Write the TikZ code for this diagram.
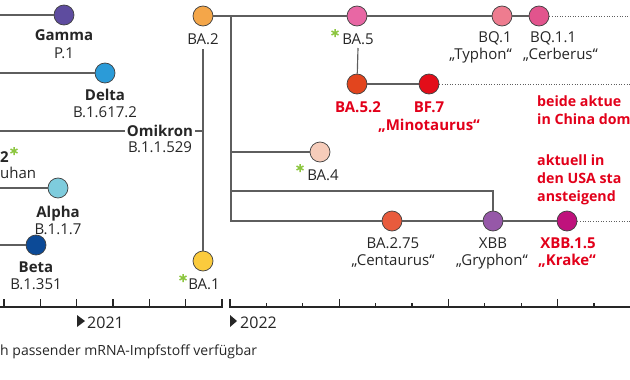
\documentclass[tikz,border=0pt]{standalone}
\usepackage{fontspec}
\setmainfont{Open Sans}
\usetikzlibrary{positioning}
\definecolor{linie}{HTML}{5E5E5E}
\definecolor{warnrot}{HTML}{E2001A}
\definecolor{sterngruen}{HTML}{8CC63F}
\definecolor{cGamma}{HTML}{5E4C9F}
\definecolor{cDelta}{HTML}{2B9BD8}
\definecolor{cAlpha}{HTML}{7ECCDD}
\definecolor{cBeta}{HTML}{0C4A97}
\definecolor{cBAzwei}{HTML}{F4A649}
\definecolor{cBAeins}{HTML}{FBCB3D}
\definecolor{cBAfuenf}{HTML}{E867A4}
\definecolor{cBAfz}{HTML}{E2451E}
\definecolor{cBF}{HTML}{E30D19}
\definecolor{cBQ}{HTML}{EE7C8F}
\definecolor{cBQe}{HTML}{E2548D}
\definecolor{cBAvier}{HTML}{F6CCBA}
\definecolor{cBAzs}{HTML}{E85B3D}
\definecolor{cXBB}{HTML}{9658A8}
\definecolor{cXBBe}{HTML}{BF127C}
\newcommand{\gruenstern}[1]{\draw[stern,shift={#1}] (0,-4)--(0,4) (-3.5,-2)--(3.5,2) (-3.5,2)--(3.5,-2);}
\begin{document}
\begin{tikzpicture}[x=1pt,y=-1pt,
    variante/.style={circle,draw=black!75,line width=.7pt,minimum size=20pt,inner sep=0pt},
    ast/.style={draw=linie,line width=1.15pt},
    weiter/.style={draw=linie,line width=.8pt,dash pattern=on 1pt off 1.6pt},
    bez/.style={font=\fontsize{15}{17}\selectfont\bfseries,text=black!85,inner sep=0pt,anchor=base},
    kurz/.style={font=\fontsize{15}{17}\selectfont,text=black!85,inner sep=0pt,anchor=base},
    rotbez/.style={bez,text=warnrot},
    hinweis/.style={font=\fontsize{14.2}{17}\selectfont\bfseries,text=warnrot,inner sep=0pt,anchor=base west},
    jahr/.style={font=\fontsize{16}{18}\selectfont,text=black!85,inner sep=0pt,anchor=base west},
    notiz/.style={font=\fontsize{14}{16}\selectfont,text=black!85,inner sep=0pt,anchor=base west},
    achse/.style={draw=black!85,line width=1.5pt},
    stern/.style={draw=sterngruen,line width=1.5pt}]
\useasboundingbox (0,0) rectangle (630,380);
\clip (0,0) rectangle (630,380);
\coordinate (rand) at (-5,0);
\coordinate (ende) at (640,0);

% Varianten bis Omikron
\node[variante,fill=cGamma] (gamma) at (64,15) {};
\node[bez] (gammaN) at (64,41) {Gamma};
\node[kurz] (gammaK) at (64,58) {P.1};
\node[variante,fill=cDelta] (delta) at (105,73) {};
\node[bez] (deltaN) at (105,100) {Delta};
\node[kurz] (deltaK) at (105,117) {B.1.617.2};
\node[variante,fill=cAlpha] (alpha) at (58,188) {};
\node[bez] (alphaN) at (58,217) {Alpha};
\node[kurz] (alphaK) at (58,234) {B.1.1.7};
\node[variante,fill=cBeta] (beta) at (36,245) {};
\node[bez] (betaN) at (36,272) {Beta};
\node[kurz] (betaK) at (36,289) {B.1.351};
\node[bez,anchor=base west] (wuhanN) at (0,162) {2};
\node[kurz,anchor=base west] (wuhanK) at (0,178) {uhan};
\gruenstern{(14,151)}
\foreach \v in {gamma,delta,alpha,beta} \draw[ast] (rand |- \v) -- (\v);

\node[bez,inner sep=2pt] (omikron) at (160,136) {Omikron};
\node[kurz] (omikronK) at (160,152) {B.1.1.529};
\coordinate (o0) at (-5,131);

% Omikron-Linien
\node[variante,fill=cBAzwei] (ba2) at (203,16) {};
\node[kurz] (ba2N) at (203,45) {BA.2};
\node[variante,fill=cBAeins] (ba1) at (203,261) {};
\node[kurz] (ba1N) at (204,289) {BA.1};
\gruenstern{(183,278)}
\draw[ast] (o0) -- (o0 -| omikron.west);
\draw[ast] (o0 -| omikron.east) -- (o0 -| ba1);
\draw[ast] ([yshift=-4pt]ba2N.base) -- (ba1);

\node[variante,fill=cBAfuenf] (ba5) at (357,16) {};
\node[kurz] (ba5N) at (358,44) {BA.5};
\gruenstern{(335,33)}
\node[variante,fill=cBAfz] (ba52) at (357,84) {};
\node[rotbez] (ba52N) at (358,112) {BA.5.2};
\node[variante,fill=cBF] (bf7) at (429,84) {};
\node[rotbez] (bf7N) at (429,112) {BF.7};
\node[rotbez] (bf7K) at (429,130) {„Minotaurus“};
\node[variante,fill=cBQ] (bq1) at (502,16) {};
\node[kurz,anchor=base east] (bq1N) at (512,42) {BQ.1};
\node[kurz,anchor=base east] (bq1K) at (512,59) {„Typhon“};
\node[variante,fill=cBQe] (bq11) at (539,16) {};
\node[kurz,anchor=base west] (bq11N) at (530,42) {BQ.1.1};
\node[kurz,anchor=base west] (bq11K) at (523,59) {„Cerberus“};
\node[variante,fill=cBAvier] (ba4) at (320,152) {};
\node[kurz] (ba4N) at (323,180) {BA.4};
\gruenstern{(300,168)}
\node[variante,fill=cBAzs] (ba275) at (392,221) {};
\node[kurz] (ba275N) at (393,248) {BA.2.75};
\node[kurz] (ba275K) at (393,265) {„Centaurus“};
\node[variante,fill=cXBB] (xbb) at (493,221) {};
\node[kurz] (xbbN) at (493,248) {XBB};
\node[kurz] (xbbK) at (492,265) {„Gryphon“};
\node[variante,fill=cXBBe] (xbb15) at (567,221) {};
\node[rotbez] (xbb15N) at (568,248) {XBB.1.5};
\node[rotbez] (xbb15K) at (567,265) {„Krake“};

\coordinate (k) at (231,16);
\coordinate (kx) at (231,191);
\draw[ast] (ba2) -- (ba5);
\draw[ast] (ba5) -- (bq1);
\draw[ast] (bq1) -- (bq11);
\draw[ast] ([yshift=-4pt]ba5N.base) -- (ba52);
\draw[ast] (ba52) -- (bf7);
\draw[ast] (k) |- (ba275);
\draw[ast] (k |- ba4) -- (ba4);
\draw[ast] (kx) -| (xbb);
\draw[ast] (ba275) -- (xbb);
\draw[ast] (xbb) -- (xbb15);
\foreach \v in {bq11,bf7,xbb15} \draw[weiter] (\v) -- (ende |- \v);

% Hinweise
\node[hinweis] (chinaA) at (537,106) {beide aktue};
\node[hinweis] (chinaB) at (537,124) {in China dom};
\node[hinweis] (usaA) at (537,165) {aktuell in};
\node[hinweis] (usaB) at (537,183) {den USA sta};
\node[hinweis] (usaC) at (537,201) {ansteigend};

% Zeitachse
\draw[achse] (-5,307) -- (222,307) -- (222,299);
\foreach \i in {0,...,5} \draw[achse,line width=1.2pt] ({4+36.35*\i},307) -- ++(0,-8);
\draw[achse] (230,299) -- (230,307) -- (640,307);
\foreach \i in {1,...,11}{
  \pgfmathsetmacro\h{ifthenelse(mod(\i,3)==0,8,4)}
  \draw[achse,line width=1.2pt] ({230+36.4*\i},307) -- ++(0,-\h);
}
\fill[black!85] (77,315) -- (85,321) -- (77,327) -- cycle;
\node[jahr] (j2021) at (87,328) {2021};
\fill[black!85] (230,315) -- (237,321) -- (230,327) -- cycle;
\node[jahr] (j2022) at (240,328) {2022};
\node[notiz] (impf) at (0,355) {h passender mRNA-Impfstoff verfügbar};
\end{tikzpicture}
\end{document}
